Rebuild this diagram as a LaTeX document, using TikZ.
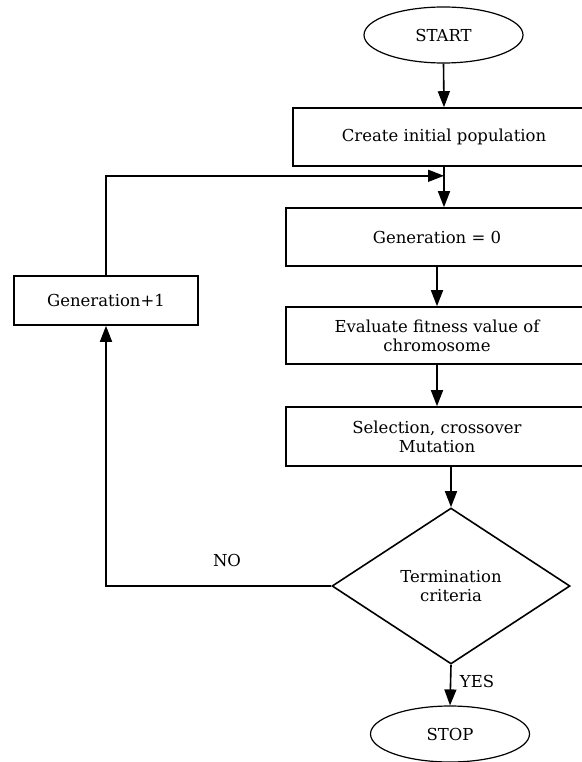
\documentclass[tikz,border=0pt]{standalone}
\usepackage{fontspec}
\setmainfont{DejaVu Serif}
\usetikzlibrary{shapes.geometric,arrows.meta}
\begin{document}
\begin{tikzpicture}[x=1pt,y=-1pt,
  every node/.style={font=\fontsize{16.5}{19}\selectfont},
  conn/.style={draw, line width=1.6pt, -{Triangle[length=16pt,width=12pt]}},
  procbox/.style={draw, line width=1.6pt, rectangle, minimum width=302pt, inner sep=0pt, align=center},
  termnode/.style={draw, line width=1.2pt, ellipse, minimum width=159pt, minimum height=56pt, inner sep=0pt},
  decision/.style={draw, line width=1.6pt, diamond, minimum width=238pt, minimum height=156pt, inner sep=0pt, align=center},
  sidebox/.style={draw, line width=1.6pt, rectangle, minimum width=184pt, minimum height=49pt, inner sep=0pt},
  lbl/.style={inner sep=0pt}
]
\useasboundingbox (0,0) rectangle (581,762);
\node[termnode] (start) at (443.5,35) {START};
\node[procbox, minimum height=58pt] (create) at (444,137) {Create initial population};
\node[procbox, minimum height=58pt] (gen0) at (437,237) {Generation = 0};
\node[procbox, minimum height=57pt] (eval) at (437,335.5) {Evaluate fitness value of\\chromosome};
\node[procbox, minimum height=59pt] (sel) at (437,436.5) {Selection, crossover\\Mutation};
\node[decision] (dia) at (451,586) {Termination\\criteria};
\node[termnode] (stop) at (450,734) {STOP};
\node[sidebox] (gp1) at (106,300.5) {Generation+1};
\path (create.south) ++(0,9) coordinate (loop);
\node[lbl] (no) at (227,560) {NO};
\node[lbl] (yes) at (477,681) {YES};
\draw[conn] (start.south) -- (create.north);
\draw[conn] (create.south) -- (create.south |- gen0.north);
\draw[conn] (gen0.south) -- (eval.north);
\draw[conn] (eval.south) -- (sel.north);
\draw[conn] (dia.north |- sel.south) -- (dia.north);
\draw[conn] (dia.south) -- (stop.north);
\draw[conn] (dia.west) -| (gp1.south);
\draw[conn] (gp1.north) |- (loop);
\end{tikzpicture}
\end{document}
